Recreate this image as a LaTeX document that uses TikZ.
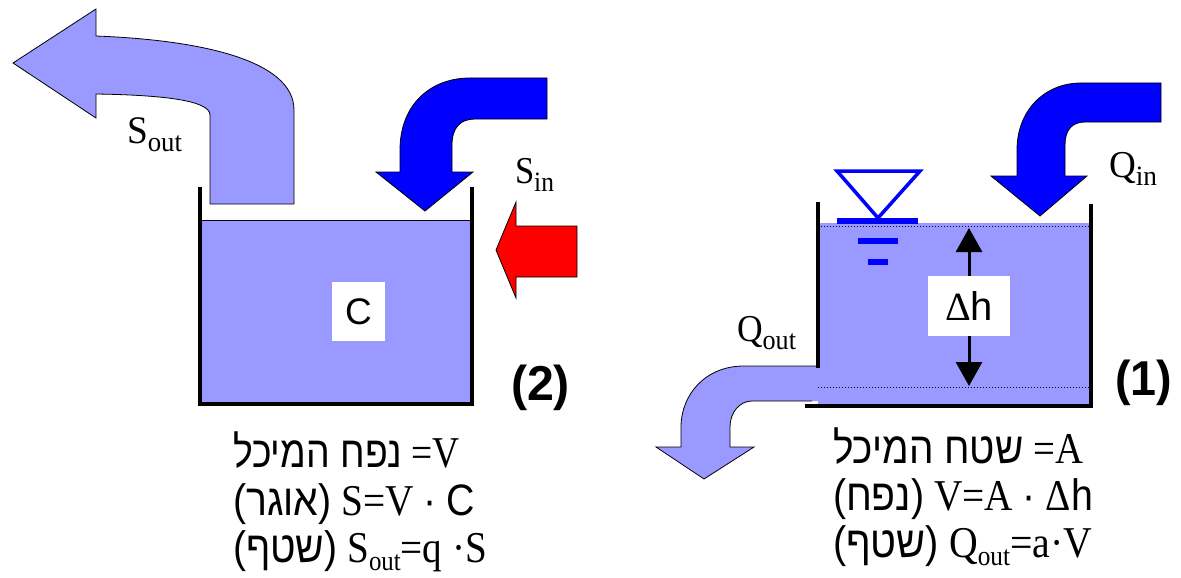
\documentclass[tikz,border=0pt]{standalone}
\usepackage{fontspec}
\usepackage{graphicx}
\setmainfont{Liberation Serif}
\newfontfamily\arial{Liberation Sans}
\newfontfamily\heb[Script=Hebrew]{Liberation Sans}
\TeXXeTstate=1
\usetikzlibrary{arrows.meta}
\definecolor{lightflow}{HTML}{9999FF}
\definecolor{darkflow}{HTML}{0000FF}
\definecolor{redflow}{HTML}{FF0000}
\newcommand\subtxt[1]{\raisebox{-8pt}{\fontsize{28}{30}\selectfont #1}}
\newcommand\hebw[1]{{\heb\beginR #1\endR}}
\newcommand\hebp[1]{{\arial(}\hebw{#1}{\arial)}}
\newcommand\fitw[3]{\fontsize{#1}{#1}\selectfont\resizebox{#2pt}{\height}{#3}}
\tikzset{
  flowlight/.style={fill=lightflow, draw=black, line width=0.8pt},
  flowdark/.style={fill=darkflow, draw=black, line width=0.8pt},
  flowred/.style={fill=redflow, draw=black, line width=0.8pt},
  wall/.style={line width=4pt, line cap=rect, line join=miter},
  lbl/.style={inner sep=0pt, outer sep=0pt, anchor=base west},
  txtbox/.style={fill=white, inner sep=0pt},
  watersym/.style={draw=darkflow, line width=3.5pt, line join=miter},
  dharrow/.style={line width=3pt, -{Triangle[width=26pt,length=24pt]}},
  dotline/.style={line width=1pt, dotted}
}
\begin{document}
\begin{tikzpicture}[x=1pt,y=-1pt]
\useasboundingbox (0,0) rectangle (1181,578);

% ---------------- Tank 2 ----------------
\fill[lightflow] (200,220) rectangle (472,404);
\draw[line width=1pt] (200,220) -- (472,220);
\draw[wall] (200,189) -- (200,404) -- (472,404) -- (472,189);

% S_out arrow
\draw[flowlight] (13,63) -- (96,9) -- (96,36)
  .. controls (200,40) and (294,60) .. (294,110) -- (294,204) -- (210,204) -- (210,115)
  .. controls (210,100) and (160,95) .. (96,94) -- (96,118) -- cycle;

% S_in dark arrow
\draw[flowdark] (547,78) -- (547,119) -- (475,119)
  .. controls (460,119) and (452,128) .. (452,145) -- (452,172) -- (473,172) -- (425,211)
  -- (376,172) -- (400,172) -- (400,150) .. controls (400,105) and (430,78) .. (470,78) -- cycle;

% red arrow
\draw[flowred] (577,226) -- (577,277) -- (516,277) -- (516,298) -- (496,250) -- (516,202) -- (516,226) -- cycle;

\node[txtbox, minimum width=53pt, minimum height=59pt] (cbox) at (358.5,311.5) {\arial\fontsize{37}{40}\selectfont C};

\node[lbl] (soutlbl) at (127,143) {\fitw{39}{55}{S\subtxt{out}}};
\node[lbl] (sinlbl) at (515,183) {\fitw{38}{39}{S\subtxt{in}}};
\node[lbl] (two) at (511,400) {\fitw{49}{59}{\arial\bfseries (2)}};

\node[lbl] (t2a) at (233,467) {\fitw{44}{227}{\hebw{נפח המיכל} =V}};
\node[lbl] (t2b) at (233,515) {\fitw{44}{242}{\hebp{אוגר} S=V {\arial ·} {\arial C}}};
\node[lbl] (t2c) at (233,562) {\fitw{44}{254}{\hebp{שטף} S\subtxt{out}=q ·S}};

% ---------------- Tank 1 ----------------
\fill[lightflow] (818,223) rectangle (1089,404);
\fill[lightflow] (820,366) -- (744,366) .. controls (705,366) and (681,395) .. (681,427)
  -- (681,447) -- (656,447) -- (704,479) -- (754,447) -- (730,447) -- (730,427)
  .. controls (730,412) and (740,401) .. (752,401) -- (820,401) -- cycle;
\draw[line width=0.8pt] (818,366) -- (744,366) .. controls (705,366) and (681,395) .. (681,427)
  -- (681,447) -- (656,447) -- (704,479) -- (754,447) -- (730,447) -- (730,427)
  .. controls (730,412) and (740,401) .. (752,401) -- (812,401);
\draw[dotline] (818,226) -- (1089,226);
\draw[dotline] (818,387) -- (1089,387);
\draw[wall] (818,204) -- (818,366);
\draw[wall] (807,406) -- (1091,406) -- (1091,206);

% water symbol
\draw[watersym] (837,171) -- (920,171) -- (878,218) -- cycle;
\fill[darkflow] (837,218) rectangle (918,224);
\fill[darkflow] (858,238) rectangle (898,244);
\fill[darkflow] (868,259) rectangle (888,265);

% Q_in arrow
\draw[flowdark] (1161,83) -- (1161,122) -- (1085,122)
  .. controls (1072,122) and (1065,130) .. (1065,145) -- (1065,176) -- (1087,176) -- (1040,216)
  -- (991,176) -- (1017,176) -- (1017,150) .. controls (1017,110) and (1045,83) .. (1081,83) -- cycle;

% Delta h
\node[txtbox, minimum width=82pt, minimum height=60pt] (dhbox) at (969,306)
  {\fontsize{40}{44}\selectfont Δ{\arial h}};
\coordinate (surf) at (969,228);
\coordinate (lowlvl) at (969,386);
\draw[dharrow] (dhbox.north) -- (surf);
\draw[dharrow] (dhbox.south) -- (lowlvl);

\node[lbl] (qinlbl) at (1109,177) {\fitw{38}{48}{Q\subtxt{in}}};
\node[lbl] (qoutlbl) at (737,341) {\fitw{38}{59}{Q\subtxt{out}}};
\node[lbl] (one) at (1115,395) {\fitw{49}{57}{\arial\bfseries (1)}};

\node[lbl] (t1a) at (833,463) {\fitw{44}{250}{\hebw{שטח המיכל} =A}};
\node[lbl] (t1b) at (833,510) {\fitw{44}{260}{\hebp{נפח} V=A {\arial ·} Δ{\arial h}}};
\node[lbl] (t1c) at (833,557) {\fitw{44}{259}{\hebp{שטף} Q\subtxt{out}=a·V}};
\end{tikzpicture}
\end{document}
